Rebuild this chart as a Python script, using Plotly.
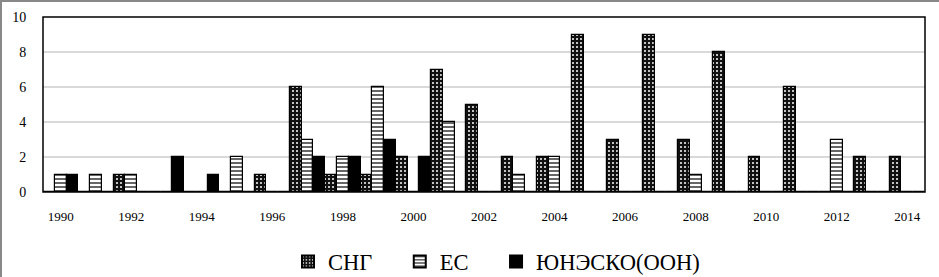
import plotly.graph_objects as go

years = list(range(1990, 2015))
sng = [0, 0, 1, 0, 0, 0, 1, 6, 1, 1, 2, 7, 5, 2, 2, 9, 3, 9, 3, 8, 2, 6, 0, 2, 2]
es = [1, 1, 1, 0, 0, 2, 0, 3, 2, 6, 0, 4, 0, 1, 2, 0, 0, 0, 1, 0, 0, 0, 3, 0, 0]
unesco = [1, 0, 0, 2, 1, 0, 0, 2, 2, 3, 2, 0, 0, 0, 0, 0, 0, 0, 0, 0, 0, 0, 0, 0, 0]
series_names = ["СНГ", "ЕС", "ЮНЭСКО(ООН)"]
x_ticks = list(range(1990, 2015, 2))
y_ticks = [0, 2, 4, 6, 8, 10]

FONT = '"Liberation Serif", "Times New Roman", "DejaVu Serif", serif'
W, H = 939, 277
ML, MR, MT, MB = 43, 14, 17, 85
PW, PH = W - ML - MR, H - MT - MB
PAD = "\u00a0" * 4

fig = go.Figure()
fig.add_trace(go.Bar(
    x=years, y=sng, name=series_names[0] + PAD,
    marker=dict(color="#111111", line=dict(color="black", width=1.2),
                pattern=dict(shape=".", fillmode="replace", bgcolor="#111111",
                             fgcolor="white", size=4, solidity=0.2)),
))
fig.add_trace(go.Bar(
    x=years, y=es, name=series_names[1] + PAD,
    marker=dict(color="white", line=dict(color="black", width=1.2),
                pattern=dict(shape="-", fillmode="replace", bgcolor="white",
                             fgcolor="black", size=4, solidity=0.3)),
))
fig.add_trace(go.Bar(
    x=years, y=unesco, name=series_names[2],
    marker=dict(color="black", line=dict(color="black", width=1.2)),
))

fig.update_layout(
    width=W, height=H,
    margin=dict(l=ML, r=MR, t=MT, b=MB, autoexpand=False),
    paper_bgcolor="white", plot_bgcolor="white",
    barmode="group", bargap=0, bargroupgap=0,
    font=dict(family=FONT, color="black", size=13),
    showlegend=True,
    legend=dict(orientation="h", x=288 / W, xanchor="left", xref="container",
                y=0.055, yanchor="middle", yref="container",
                font=dict(family=FONT, size=22.5, color="black"),
                itemsizing="constant"),
    xaxis=dict(range=[1989.5, 2014.5], tickmode="array", tickvals=x_ticks,
               ticktext=[str(v) for v in x_ticks], ticks="outside", ticklen=12,
               tickcolor="rgba(0,0,0,0)", showgrid=False, zeroline=False,
               showline=False, tickfont=dict(family=FONT, size=13)),
    yaxis=dict(range=[0, 10], tickmode="array", tickvals=y_ticks,
               ticks="outside", ticklen=13, tickcolor="rgba(0,0,0,0)",
               showgrid=True, gridcolor="#d9d9d9", gridwidth=1.5,
               zeroline=False, showline=False,
               tickfont=dict(family=FONT, size=14)),
    shapes=[
        dict(type="rect", xref="paper", yref="paper", x0=0, x1=1, y0=0, y1=1,
             line=dict(color="black", width=1.5), layer="above"),
        dict(type="line", xref="paper", yref="paper", x0=-(ML - 1) / PW, x1=1 + MR / PW,
             y0=1 + (MT - 1) / PH, y1=1 + (MT - 1) / PH, line=dict(color="#888888", width=2)),
        dict(type="line", xref="paper", yref="paper", x0=-(ML - 1) / PW, x1=-(ML - 1) / PW,
             y0=-MB / PH, y1=1 + MT / PH, line=dict(color="#888888", width=2)),
    ],
)

fig.write_html("out.html", config={"displayModeBar": False},
               post_script="document.body.style.margin='0';document.body.style.padding='0';")
